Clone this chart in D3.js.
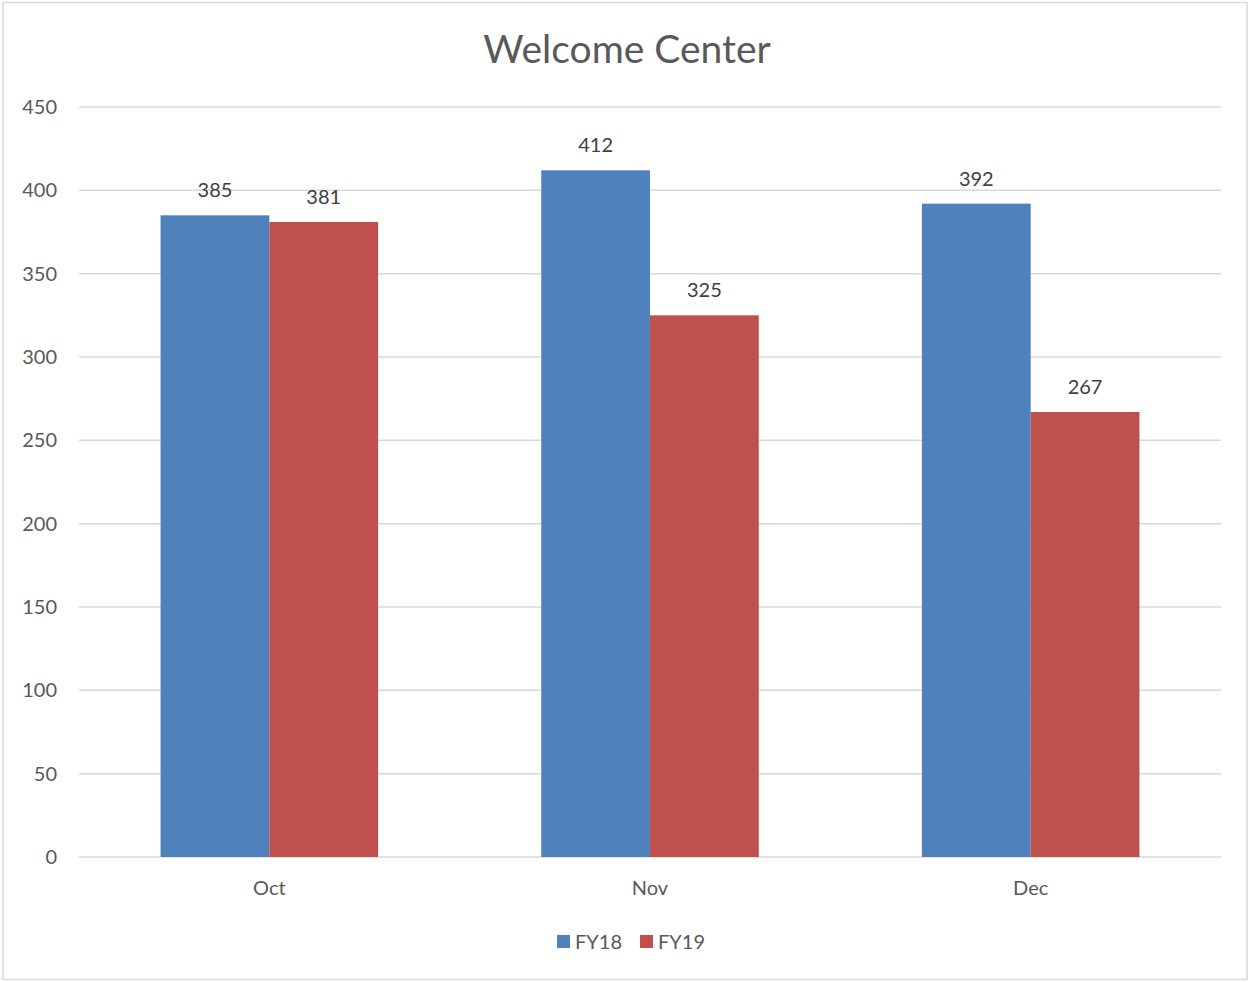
<!DOCTYPE html>
<html><head><meta charset="utf-8">
<script src="https://cdn.jsdelivr.net/npm/d3@7"></script>
<style>body{margin:0;background:#fff}svg{display:block}</style>
</head><body>
<script>
const categories = ["Oct", "Nov", "Dec"];
const seriesNames = ["FY18", "FY19"];
const fy18 = [385, 412, 392];
const fy19 = [381, 325, 267];
const yTicks = [0, 50, 100, 150, 200, 250, 300, 350, 400, 450];
const title = "Welcome Center";

(function () {
const W = 1249, H = 982;
const colors = ["#4f81bd", "#c0504d"];
const font = "Lato, 'Open Sans', sans-serif";
const txt = "#595959";

const svg = d3.select("body").append("svg").attr("width", W).attr("height", H);
svg.append("rect").attr("x", 3).attr("y", 2.5).attr("width", 1244).attr("height", 977)
  .attr("fill", "#fff").attr("stroke", "#d9d9d9").attr("stroke-width", 1.5);

const pLeft = 79, pRight = 1221, pTop = 107, pBottom = 857;
const step = (pRight - pLeft) / categories.length;
const groupW = step / (1 + 1.5 / 2);
const xg = d3.scaleBand().domain(categories).range([pLeft, pRight]).padding(0);
const xs = d3.scaleBand().domain(seriesNames).range([0, groupW]);
const y = d3.scaleLinear().domain([0, 450]).range([pBottom, pTop]);

svg.append("g").selectAll("line").data(yTicks).join("line")
  .attr("x1", pLeft).attr("x2", pRight)
  .attr("y1", d => y(d)).attr("y2", d => y(d))
  .attr("stroke", "#d9d9d9").attr("stroke-width", 1.5);

svg.append("g").selectAll("text").data(yTicks).join("text")
  .attr("x", 57).attr("y", d => y(d) + 7)
  .attr("text-anchor", "end").attr("font-family", font).attr("font-size", 20)
  .attr("fill", txt).text(d => d);

const data = [fy18, fy19];
const groupX = c => xg(c) + (xg.bandwidth() - groupW) / 2;

seriesNames.forEach((s, si) => {
  const g = svg.append("g");
  g.selectAll("rect").data(categories).join("rect")
    .attr("x", c => groupX(c) + xs(s))
    .attr("width", xs.bandwidth())
    .attr("y", (c, i) => y(data[si][i]))
    .attr("height", (c, i) => y(0) - y(data[si][i]))
    .attr("fill", colors[si]);
  g.selectAll("text").data(categories).join("text")
    .attr("x", c => groupX(c) + xs(s) + xs.bandwidth() / 2)
    .attr("y", (c, i) => y(data[si][i]) - 18)
    .attr("text-anchor", "middle").attr("font-family", font).attr("font-size", 20)
    .attr("fill", "#404040").text((c, i) => data[si][i]);
});

svg.append("g").selectAll("text").data(categories).join("text")
  .attr("x", c => xg(c) + xg.bandwidth() / 2).attr("y", 895)
  .attr("text-anchor", "middle").attr("font-family", font).attr("font-size", 20)
  .attr("fill", txt).text(c => c);

svg.append("text").attr("x", 627).attr("y", 63).attr("text-anchor", "middle")
  .attr("font-family", font).attr("font-size", 39).attr("fill", txt).text(title);

const legX = [557, 640];
seriesNames.forEach((s, i) => {
  svg.append("rect").attr("x", legX[i]).attr("y", 935).attr("width", 13).attr("height", 13).attr("fill", colors[i]);
  svg.append("text").attr("x", legX[i] + 18).attr("y", 949).attr("font-family", font)
    .attr("font-size", 20).attr("fill", txt).text(s);
});
})();
</script>
</body></html>
